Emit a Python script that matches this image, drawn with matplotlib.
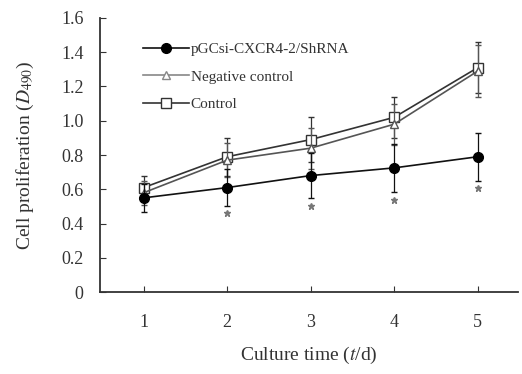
import numpy as np
import matplotlib.pyplot as plt
from matplotlib.lines import Line2D

plt.rcParams['font.family'] = ['Liberation Serif', 'DejaVu Serif']
plt.rcParams['mathtext.fontset'] = 'stix'

# data #
days = [1, 2, 3, 4, 5]
shrna = [0.55, 0.61, 0.68, 0.725, 0.79]
shrna_sd = [0.08, 0.11, 0.13, 0.14, 0.14]
neg = [0.58, 0.77, 0.84, 0.98, 1.29]
neg_sd = [0.07, 0.10, 0.12, 0.12, 0.15]
ctrl = [0.61, 0.79, 0.89, 1.02, 1.31]
ctrl_sd = [0.07, 0.11, 0.13, 0.12, 0.15]
star_y = [0.46, 0.50, 0.54, 0.61]
star_x = [2, 3, 4, 5]
yticks = [0, 0.2, 0.4, 0.6, 0.8, 1.0, 1.2, 1.4, 1.6]
ytick_labels = ['0', '0.2', '0.4', '0.6', '0.8', '1.0', '1.2', '1.4', '1.6']

# plotting #
fig = plt.figure(figsize=(5.22, 3.74), dpi=100)
ax = fig.add_axes([0.192, 0.219, 0.800, 0.733])

ax.errorbar(days, ctrl, yerr=ctrl_sd, color='#333333', lw=1.2, marker='s', ms=7,
            mfc='white', mec='#333333', capsize=2.5, elinewidth=0.9, zorder=2)
ax.errorbar(days, neg, yerr=neg_sd, color='#555555', lw=1.2, marker='^', ms=6,
            mfc='white', mec='#555555', capsize=2.5, elinewidth=0.9, zorder=3)
ax.errorbar(days, shrna, yerr=shrna_sd, color='#111111', lw=1.2, marker='o', ms=7,
            mfc='black', mec='black', capsize=2.5, elinewidth=0.9, zorder=4)
ax.plot(star_x, star_y, ls='none', marker='*', ms=5, color='#777777')

ax.set_xlim(0.48, 5.48)
ax.set_ylim(0, 1.6)
ax.set_xticks(days)
ax.set_yticks(yticks)
ax.set_yticklabels(ytick_labels)
ax.tick_params(direction='in', length=4, labelsize=13, color='#333333', labelcolor='#333333')
ax.tick_params(axis='x', pad=16)
ax.tick_params(axis='y', pad=12)
for s in ['top', 'right']:
    ax.spines[s].set_visible(False)
for s in ['left', 'bottom']:
    ax.spines[s].set_color('#333333')
    ax.spines[s].set_linewidth(1.3)

ax.set_xlabel('Culture time ($t$/d)', fontsize=14, color='#333333', labelpad=10)
ax.set_ylabel('Cell proliferation ($D_{490}$)', fontsize=14, color='#333333', labelpad=18)

handles = [
    Line2D([], [], color='#111111', lw=1.2, marker='o', ms=7, mfc='black', mec='black'),
    Line2D([], [], color='#888888', lw=1.2, marker='^', ms=6, mfc='white', mec='#888888'),
    Line2D([], [], color='#333333', lw=1.2, marker='s', ms=7, mfc='white', mec='#333333'),
]
labels = ['pGCsi-CXCR4-2/ShRNA', 'Negative control', 'Control']
ax.legend(handles, labels, loc='upper left', bbox_to_anchor=(0.07, 0.96), frameon=False,
          fontsize=11, handlelength=3.0, handletextpad=0.1, labelspacing=0.9, labelcolor='#333333')

fig.savefig('out.png', dpi=100)
